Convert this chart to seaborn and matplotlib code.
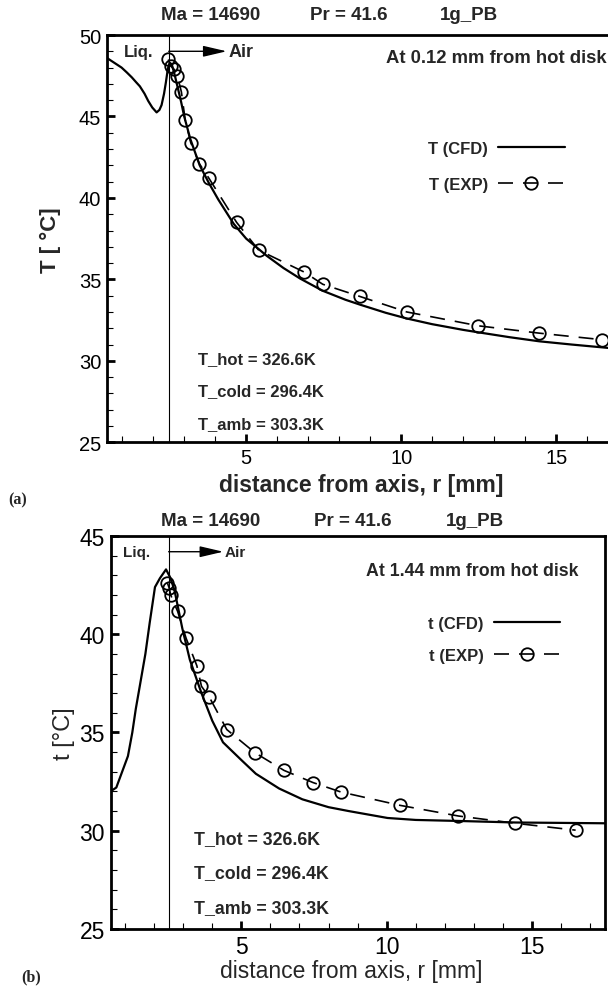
import numpy as np
import pandas as pd
import matplotlib
matplotlib.use("Agg")
import matplotlib.pyplot as plt
import seaborn as sns
from matplotlib.ticker import MultipleLocator

# ---------------- data: panel (a), 0.12 mm from hot disk ----------------
r_cfd_a = [0.5, 0.7, 0.98, 1.15, 1.31, 1.45, 1.57, 1.72, 1.84, 1.97, 2.11, 2.2, 2.27,
           2.35, 2.41, 2.47, 2.53, 2.6, 2.7, 2.8, 2.9, 3.0, 3.2, 3.5, 3.8, 4.1, 4.6,
           5.0, 5.66, 6.2, 6.74, 7.47, 8.2, 8.67, 9.5, 10.18, 11.0, 12.0, 12.49,
           13.5, 14.45, 15.5, 16.47, 17.5]
T_cfd_a = [48.6, 48.35, 48.0, 47.7, 47.4, 47.1, 46.85, 46.4, 45.95, 45.55, 45.25, 45.4,
           45.7, 46.4, 47.1, 47.9, 48.3, 48.2, 47.5, 46.7, 45.9, 45.0, 43.6, 42.0, 40.9,
           39.9, 38.4, 37.5, 36.45, 35.7, 35.05, 34.3, 33.75, 33.45, 32.95, 32.6, 32.25,
           31.9, 31.75, 31.45, 31.2, 31.0, 30.83, 30.65]
r_exp_a = [2.49, 2.56, 2.67, 2.78, 2.91, 3.03, 3.21, 3.49, 3.80, 4.69, 5.40, 6.87,
           7.47, 8.67, 10.18, 12.49, 14.45, 16.47]
T_exp_a = [48.5, 48.1, 47.9, 47.5, 46.5, 44.8, 43.4, 42.1, 41.2, 38.5, 36.8, 35.45,
           34.7, 33.95, 33.0, 32.15, 31.7, 31.3]

# ---------------- data: panel (b), 1.44 mm from hot disk ----------------
r_cfd_b = [0.5, 0.7, 0.9, 1.1, 1.25, 1.37, 1.5, 1.7, 1.85, 2.03, 2.2, 2.41, 2.55, 2.7,
           2.97, 3.23, 3.63, 4.0, 4.37, 5.0, 5.5, 6.3, 7.1, 8.0, 8.7, 10.03, 11.0,
           12.43, 14.43, 16.0, 17.5]
t_cfd_b = [32.0, 32.2, 33.0, 33.8, 35.0, 36.2, 37.3, 39.0, 40.6, 42.4, 42.85, 43.3,
           42.9, 42.25, 40.3, 38.7, 37.0, 35.6, 34.5, 33.6, 32.9, 32.15, 31.6, 31.2,
           31.0, 30.65, 30.55, 30.5, 30.42, 30.4, 30.38]
r_exp_b = [2.46, 2.52, 2.57, 2.81, 3.10, 3.47, 3.63, 3.90, 4.50, 5.47, 6.47, 7.47,
           8.43, 10.47, 12.47, 14.43, 16.5]
t_exp_b = [42.6, 42.35, 42.0, 41.16, 39.8, 38.4, 37.35, 36.8, 35.15, 33.97, 33.07,
           32.45, 31.97, 31.29, 30.75, 30.38, 30.03]

# ---------------- labels / ticks ----------------
title_parts = ["Ma = 14690", "Pr = 41.6", "1g_PB"]
bc_labels = ["T_hot = 326.6K", "T_cold = 296.4K", "T_amb = 303.3K"]
x_ticks = [5, 10, 15]
y_ticks_a = [25, 30, 35, 40, 45, 50]
y_ticks_b = [25, 30, 35, 40, 45]
r_interface = 2.5

sns.set_theme(style="ticks")
plt.rcParams['font.family'] = ['Liberation Sans', 'DejaVu Sans']
plt.rcParams['axes.edgecolor'] = 'black'

W, H = 608, 987
fig = plt.figure(figsize=(W / 100, H / 100), dpi=100)
fig.patch.set_facecolor('white')


def rect(l, t, r, b):
    return [l / W, 1 - b / H, (r - l) / W, (b - t) / H]


def ftext(x, y, s, **kw):
    kw.setdefault('va', 'center')
    kw.setdefault('ha', 'left')
    fig.text(x / W, 1 - y / H, s, **kw)


ax1 = fig.add_axes(rect(106.7, 36, 633.7, 443.3))
ax2 = fig.add_axes(rect(110.5, 537, 604.7, 930))

dash = (0, (9, 6))
for ax, rc, yc, re, ye, lab, ylim, yt, tsz in [
        (ax1, r_cfd_a, T_cfd_a, r_exp_a, T_exp_a, 'T', (25, 50), y_ticks_a, 14.5),
        (ax2, r_cfd_b, t_cfd_b, r_exp_b, t_exp_b, 't', (25, 45), y_ticks_b, 16.5)]:
    sns.lineplot(x=rc, y=yc, ax=ax, sort=False, estimator=None, color='black',
                 lw=1.6, label=f'{lab} (CFD)')
    sns.lineplot(x=re, y=ye, ax=ax, sort=False, estimator=None, color='black',
                 lw=1.2, linestyle=dash, marker='o', ms=9, mfc='none', mec='black',
                 mew=1.3, label=f'{lab} (EXP)')
    ax.axvline(r_interface, color='black', lw=0.8)
    ax.set_xlim(0.5, 17.5)
    ax.set_ylim(*ylim)
    ax.set_xticks(x_ticks)
    ax.set_yticks(yt)
    ax.xaxis.set_minor_locator(MultipleLocator(1))
    ax.yaxis.set_minor_locator(MultipleLocator(1))
    ax.tick_params(which='major', direction='in', length=6, width=2, labelsize=tsz,
                   pad=4, top=False, right=False, colors='black')
    ax.tick_params(which='minor', direction='in', length=4, width=0.8,
                   top=False, right=False, color='black')
    for sp in ax.spines.values():
        sp.set_linewidth(2)
        sp.set_color('black')
    ax.set_xlabel('')
    ax.set_ylabel('')
    ax.set_facecolor('white')
    ax.grid(False)

# legends
leg1 = ax1.legend(loc='upper left', bbox_to_anchor=(428 / W, 1 - 142 / H),
                  bbox_transform=fig.transFigure, frameon=False, markerfirst=False,
                  handlelength=4.0, handletextpad=0.6, labelspacing=1.25,
                  borderpad=0, borderaxespad=0, numpoints=1,
                  prop=dict(weight='bold', size=12))
leg2 = ax2.legend(loc='upper left', bbox_to_anchor=(428 / W, 1 - 617 / H),
                  bbox_transform=fig.transFigure, frameon=False, markerfirst=False,
                  handlelength=4.0, handletextpad=0.6, labelspacing=1.03,
                  borderpad=0, borderaxespad=0, numpoints=1,
                  prop=dict(weight='bold', size=12))

# Liq. -> Air arrows
for ax, yy, tip, liq_x, fs_l, fs_a in [(ax1, 49.0, 4.37, 1.07, 12, 13),
                                        (ax2, 44.2, 4.38, 0.94, 11, 11)]:
    ax.annotate('', xy=(tip, yy), xytext=(r_interface, yy),
                arrowprops=dict(arrowstyle='-|>,head_length=1.2,head_width=0.28',
                                color='black', lw=1, shrinkA=0, shrinkB=0))
    ax.text(tip + 0.05, yy, 'Air', ha='left', va='center', weight='bold', size=fs_a)
    ax.text(liq_x, yy, 'Liq.', ha='left', va='center', weight='bold', size=fs_l)

# titles
for xs, y in [((161, 310, 440), 16), ((161, 314, 446), 521.7)]:
    for x, s in zip(xs, title_parts):
        ftext(x, y, s, weight='bold', size=13.5)

ftext(385.7, 59, 'At 0.12 mm from hot disk', weight='bold', size=13.3)
ftext(366, 572, 'At 1.44 mm from hot disk', weight='bold', size=12.8)

for y, s in zip((360, 391.7, 425), bc_labels):
    ftext(198.4, y, s, weight='bold', size=12)
for y, s in zip((840, 873.3, 908.3), bc_labels):
    ftext(193.8, y, s, weight='bold', size=12.8)

# axis labels
ftext(50, 240, 'T [ °C]', rotation=90, ha='center', weight='bold', size=16)
ftext(64, 734, 't [°C]', rotation=90, ha='center', size=17)
ftext(361.5, 486, 'distance from axis, r [mm]', ha='center', weight='bold', size=16.5)
ftext(350.8, 972, 'distance from axis, r [mm]', ha='center', size=16.5)

# panel letters
ftext(8, 500, '(a)', family=['Liberation Serif', 'DejaVu Serif'], weight='bold', size=11.5)
ftext(21, 977, '(b)', family=['Liberation Serif', 'DejaVu Serif'], weight='bold', size=11.5)

fig.savefig('out.png', dpi=100, facecolor='white')
